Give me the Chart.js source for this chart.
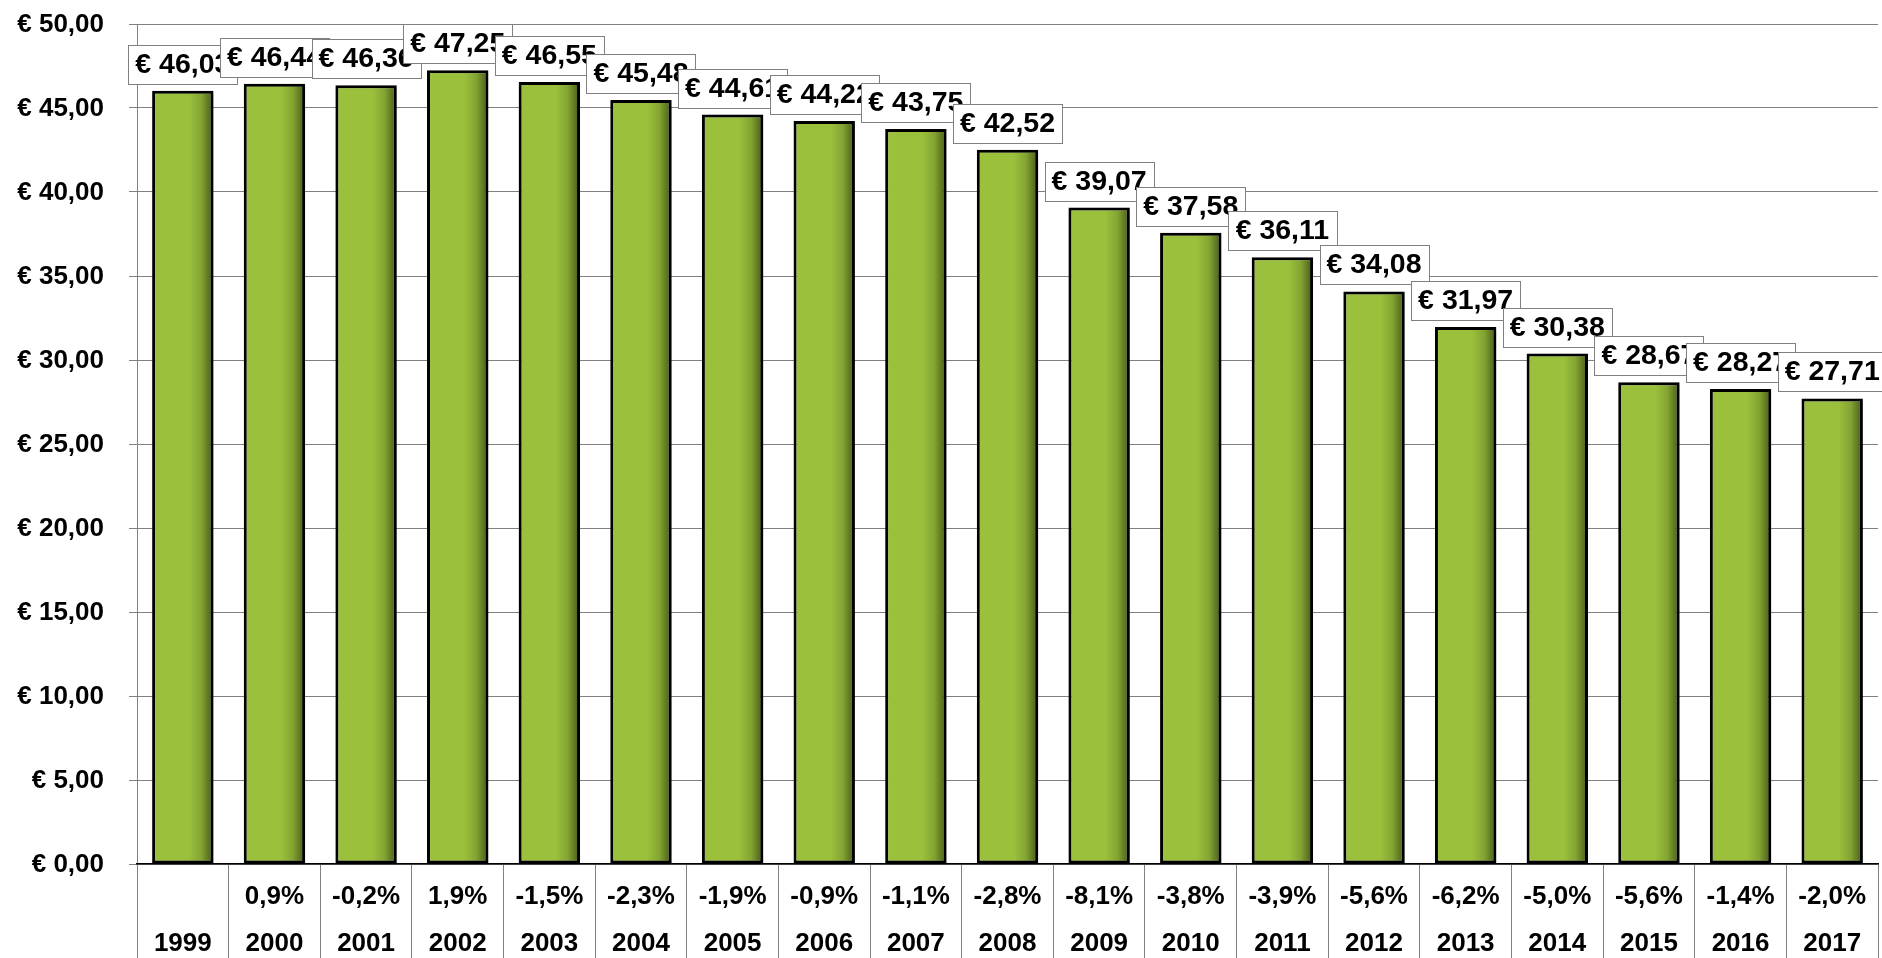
<!DOCTYPE html>
<html>
<head>
<meta charset="utf-8">
<script src="https://cdn.jsdelivr.net/npm/chart.js@4.4.1/dist/chart.umd.min.js"></script>
<style>
  html, body { margin: 0; padding: 0; background: #fff; }
  #wrap { width: 1882px; height: 958px; }
</style>
</head>
<body>
<div id="wrap"><canvas id="myChart" width="1882" height="958"></canvas></div>
<script>
const years = ['1999', '2000', '2001', '2002', '2003', '2004', '2005', '2006', '2007', '2008',
  '2009', '2010', '2011', '2012', '2013', '2014', '2015', '2016', '2017'];
const prices = [46.03, 46.44, 46.36, 47.25, 46.55, 45.48, 44.61, 44.22, 43.75, 42.52,
  39.07, 37.58, 36.11, 34.08, 31.97, 30.38, 28.67, 28.27, 27.71];
const changes = ['', '0,9%', '-0,2%', '1,9%', '-1,5%', '-2,3%', '-1,9%', '-0,9%', '-1,1%', '-2,8%',
  '-8,1%', '-3,8%', '-3,9%', '-5,6%', '-6,2%', '-5,0%', '-5,6%', '-1,4%', '-2,0%'];

const FONT = '"Liberation Sans", Arial, sans-serif';
const euro = (v) => '€ ' + v.toFixed(2).replace('.', ',');

const drawText = (ctx, text, x, y, size, align) => {
  ctx.save();
  ctx.font = 'bold ' + size + 'px ' + FONT;
  ctx.textAlign = align;
  ctx.textBaseline = 'middle';
  ctx.fillStyle = '#000';
  ctx.fillText(text, x, y);
  ctx.restore();
};

// green bars with a darker right edge, plus a soft shadow
const barLook = {
  id: 'barLook',
  beforeDatasetDraw(chart) {
    const ctx = chart.ctx;
    chart.getDatasetMeta(0).data.forEach((el) => {
      const l = el.x - el.width / 2;
      const g = ctx.createLinearGradient(l, 0, l + el.width, 0);
      g.addColorStop(0, '#9bc13c');
      g.addColorStop(0.6, '#9bc13c');
      g.addColorStop(0.8, '#83a432');
      g.addColorStop(1, '#455816');
      el.options.backgroundColor = g;
    });
    ctx.save();
    ctx.shadowColor = 'rgba(0,0,0,0.3)';
    ctx.shadowOffsetX = 3;
    ctx.shadowOffsetY = 2;
    ctx.shadowBlur = 4;
  },
  afterDatasetDraw(chart) {
    chart.ctx.restore();
  },
};

// axis texts and boxed value labels
const texts = {
  id: 'texts',
  afterDatasetsDraw(chart) {
    const ctx = chart.ctx;
    const yScale = chart.scales.y;
    const xScale = chart.scales.x;

    yScale.ticks.forEach((t, i) => {
      drawText(ctx, euro(t.value), yScale.right - 33, yScale.getPixelForTick(i) + 1, 26, 'right');
    });

    years.forEach((y, i) => {
      const x = xScale.getPixelForTick(i);
      if (changes[i]) drawText(ctx, changes[i], x, xScale.top + 33, 26, 'center');
      drawText(ctx, y, x, xScale.top + 80, 26, 'center');
    });

    chart.getDatasetMeta(0).data.forEach((el, i) => {
      const w = 109, h = 39;
      const x = Math.round(el.x - w / 2);
      const y = Math.round(el.y - 7 - h);
      ctx.fillStyle = '#fff';
      ctx.fillRect(x, y, w, h);
      ctx.strokeStyle = '#808080';
      ctx.lineWidth = 1;
      ctx.strokeRect(x + 0.5, y + 0.5, w, h);
      drawText(ctx, euro(prices[i]), el.x, y + h / 2 + 1, 28.5, 'center');
    });
  },
};

const ctx = document.getElementById('myChart').getContext('2d');
new Chart(ctx, {
  type: 'bar',
  data: {
    labels: years,
    datasets: [{
      data: prices,
      backgroundColor: () => '#9bc13c',
      borderColor: '#000',
      borderWidth: 3,
      borderSkipped: false,
      categoryPercentage: 1,
      barPercentage: 0.67,
    }],
  },
  options: {
    responsive: false,
    animation: false,
    layout: {padding: {top: 24, right: 4, left: 0, bottom: 0}},
    plugins: {legend: {display: false}, tooltip: {enabled: false}},
    scales: {
      y: {
        min: 0,
        max: 50,
        afterFit: (s) => { s.width = 137; },
        ticks: {stepSize: 5, display: false},
        grid: {color: '#808080', lineWidth: 1, tickLength: 8},
        border: {color: '#808080', width: 1},
      },
      x: {
        afterFit: (s) => { s.height = 94; },
        ticks: {display: false},
        grid: {drawOnChartArea: false, color: '#808080', tickLength: 94},
        border: {color: '#000', width: 1.5},
      },
    },
  },
  plugins: [barLook, texts],
});
</script>
</body>
</html>
